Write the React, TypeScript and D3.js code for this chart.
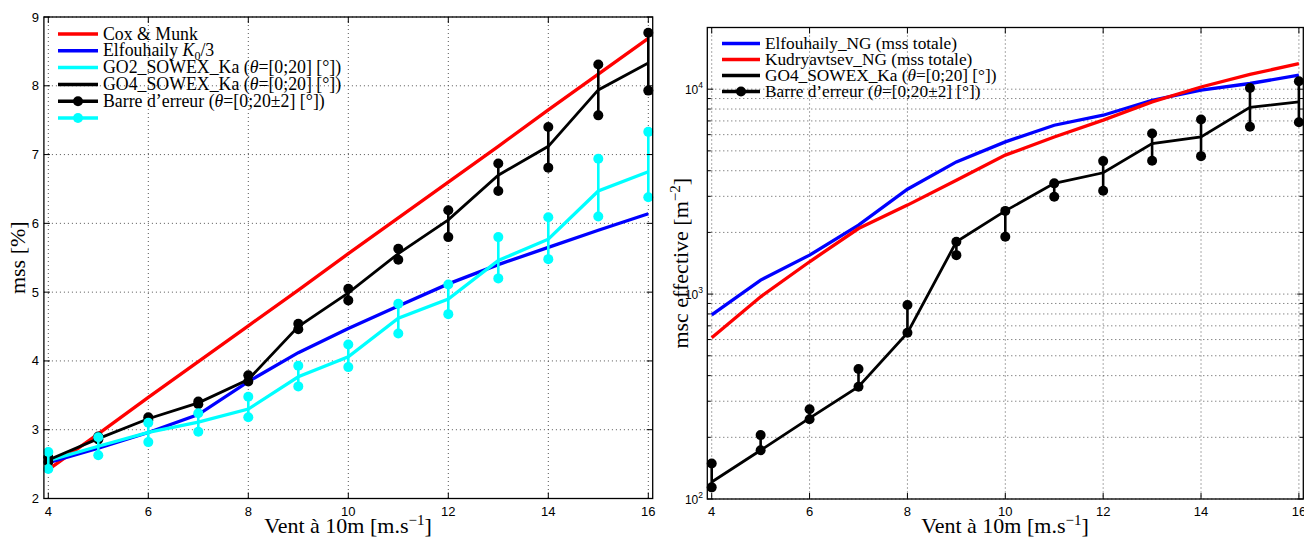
import React from 'react';
import * as d3 from 'd3';

// ---------- data ----------
const windSpeeds = [4, 5, 6, 7, 8, 9, 10, 11, 12, 13, 14, 15, 16];

// Left panel: mss [%]
const coxMunk = [2.42, 2.94, 3.47, 3.99, 4.51, 5.03, 5.56, 6.08, 6.6, 7.12, 7.65, 8.17, 8.69];
const elfouhailyK0 = [2.52, 2.73, 2.96, 3.22, 3.7, 4.12, 4.47, 4.8, 5.12, 5.4, 5.65, 5.9, 6.14];
const go2Mss = [2.55, 2.76, 2.96, 3.11, 3.3, 3.77, 4.06, 4.62, 4.9, 5.46, 5.77, 6.47, 6.75];
const go2Upper = [2.675, 2.89, 3.1, 3.24, 3.48, 3.93, 4.24, 4.83, 5.11, 5.8, 6.09, 6.94, 7.33];
const go2Lower = [2.43, 2.63, 2.82, 2.97, 3.18, 3.63, 3.91, 4.4, 4.68, 5.2, 5.48, 6.1, 6.38];
const go4Mss = [2.56, 2.87, 3.16, 3.39, 3.73, 4.5, 4.99, 5.56, 6.05, 6.7, 7.12, 7.94, 8.33];
const go4Upper = [2.6, 2.9, 3.18, 3.41, 3.79, 4.54, 5.05, 5.63, 6.19, 6.87, 7.4, 8.31, 8.77];
const go4Lower = [2.53, 2.86, 3.14, 3.37, 3.7, 4.46, 4.88, 5.47, 5.8, 6.47, 6.81, 7.57, 7.93];

// Right panel: msc effective [m^-2]
const elfouhailyNG = [791, 1170, 1549, 2172, 3250, 4416, 5530, 6670, 7462, 8833, 9883, 10660, 11700];
const kudryavtsevNG = [612, 970, 1438, 2089, 2718, 3597, 4766, 5845, 7060, 8670, 10250, 11800, 13330];
const go4Msc = [121, 173, 248, 353, 647, 1799, 2547, 3470, 3909, 5430, 5845, 8150, 8670];
const go4MscUpper = [149, 205, 274, 431, 884, 1799, 2547, 3470, 4457, 6080, 7110, 10140, 10940];
const go4MscLower = [114, 173, 245, 353, 647, 1549, 1905, 2985, 3191, 4470, 4713, 6550, 6890];

const xTicks = [4, 6, 8, 10, 12, 14, 16];
const leftYTicks = [2, 3, 4, 5, 6, 7, 8, 9];
const rightYMajor = [100, 1000, 10000];

// ---------- style ----------
const RED = '#ff0000';
const BLUE = '#0000ff';
const CYAN = '#00ffff';
const BLACK = '#000000';
const SERIF = '"Liberation Serif", "Times New Roman", serif';
const SANS = '"Liberation Sans", Arial, Helvetica, sans-serif';
const GRID = { stroke: '#555', strokeWidth: 1, strokeDasharray: '1,3' };
const MARKER_R = 5;

function ErrorBars({ xs, lo, hi, x, y, color }: any) {
  return (
    <g>
      {xs.map((d: number, i: number) => (
        <g key={i}>
          <line x1={x(d)} x2={x(d)} y1={y(lo[i])} y2={y(hi[i])} stroke={color} strokeWidth={2.6} />
          <circle cx={x(d)} cy={y(lo[i])} r={MARKER_R} fill={color} />
          <circle cx={x(d)} cy={y(hi[i])} r={MARKER_R} fill={color} />
        </g>
      ))}
    </g>
  );
}

function LeftPanel() {
  const x0 = 43.9, x1 = 652.7, y0 = 17, y1 = 498.5;
  const x = d3.scaleLinear().domain([3.912, 16.088]).range([x0, x1]);
  const y = d3.scaleLinear().domain([2, 9]).range([y1, y0]);
  const line = (vals: number[]) =>
    d3.line<number>().x((_, i) => x(windSpeeds[i])).y((v) => y(v))(vals) || '';
  const tl = 6;
  const legendRows = [
    { color: RED, marker: false },
    { color: BLUE, marker: false },
    { color: CYAN, marker: false },
    { color: BLACK, marker: false },
    { color: BLACK, marker: true },
    { color: CYAN, marker: true },
  ];
  const legendY = (i: number) => 34 + i * 16.8;
  return (
    <g>
      {xTicks.map((t) => (
        <line key={'gx' + t} x1={x(t)} x2={x(t)} y1={y0} y2={y1} {...GRID} />
      ))}
      {leftYTicks.map((t) => (
        <line key={'gy' + t} x1={x0} x2={x1} y1={y(t)} y2={y(t)} {...GRID} />
      ))}
      <path d={line(coxMunk)} fill="none" stroke={RED} strokeWidth={3.3} />
      <path d={line(elfouhailyK0)} fill="none" stroke={BLUE} strokeWidth={3.3} />
      <path d={line(go2Mss)} fill="none" stroke={CYAN} strokeWidth={3.3} />
      <path d={line(go4Mss)} fill="none" stroke={BLACK} strokeWidth={2.8} />
      <ErrorBars xs={windSpeeds} lo={go4Lower} hi={go4Upper} x={x} y={y} color={BLACK} />
      <ErrorBars xs={windSpeeds} lo={go2Lower} hi={go2Upper} x={x} y={y} color={CYAN} />
      <rect x={x0} y={y0} width={x1 - x0} height={y1 - y0} fill="none" stroke="#000" strokeWidth={1.3} />
      {xTicks.map((t) => (
        <g key={'tx' + t}>
          <line x1={x(t)} x2={x(t)} y1={y1} y2={y1 - tl} stroke="#000" />
          <line x1={x(t)} x2={x(t)} y1={y0} y2={y0 + tl} stroke="#000" />
          <text x={x(t)} y={515.5} fontFamily={SANS} fontSize={13} textAnchor="middle">{t}</text>
        </g>
      ))}
      {leftYTicks.map((t) => (
        <g key={'ty' + t}>
          <line x1={x0} x2={x0 + tl} y1={y(t)} y2={y(t)} stroke="#000" />
          <line x1={x1} x2={x1 - tl} y1={y(t)} y2={y(t)} stroke="#000" />
          <text x={39} y={y(t) + 4.5} fontFamily={SANS} fontSize={13} textAnchor="end">{t}</text>
        </g>
      ))}
      <text x={348} y={533} fontFamily={SERIF} fontSize={22} textAnchor="middle">
        Vent à 10m [m.s<tspan dy={-8} fontSize={15}>−1</tspan><tspan dy={8}>]</tspan>
      </text>
      <text transform={`translate(25,${(y0 + y1) / 2}) rotate(-90)`} fontFamily={SERIF} fontSize={22} textAnchor="middle">
        mss [%]
      </text>
      {legendRows.map((r, i) => (
        <g key={'lg' + i}>
          <line x1={58} x2={98} y1={legendY(i)} y2={legendY(i)} stroke={r.color} strokeWidth={3.5} />
          {r.marker && <circle cx={78} cy={legendY(i)} r={MARKER_R} fill={r.color} />}
        </g>
      ))}
      <g fontFamily={SERIF} fontSize={17.8}>
        <text x={103} y={legendY(0) + 5.5}>Cox &amp; Munk</text>
        <text x={103} y={legendY(1) + 5.5}>
          Elfouhaily <tspan fontStyle="italic">K</tspan>
          <tspan dy={4} fontSize={12}>0</tspan>
          <tspan dy={-4}>/3</tspan>
        </text>
        <text x={103} y={legendY(2) + 5.5}>
          GO2_SOWEX_Ka (<tspan fontStyle="italic">θ</tspan>=[0;20] [°])
        </text>
        <text x={103} y={legendY(3) + 5.5}>
          GO4_SOWEX_Ka (<tspan fontStyle="italic">θ</tspan>=[0;20] [°])
        </text>
        <text x={103} y={legendY(4) + 5.5}>
          Barre d’erreur (<tspan fontStyle="italic">θ</tspan>=[0;20±2] [°])
        </text>
      </g>
    </g>
  );
}

function RightPanel() {
  const x0 = 707.3, x1 = 1303.3, y0 = 27.5, y1 = 499;
  const x = d3.scaleLinear().domain([3.91, 16.09]).range([x0, x1]);
  const y = d3.scaleLog().domain([100, 20000]).range([y1, y0]);
  const line = (vals: number[]) =>
    d3.line<number>().x((_, i) => x(windSpeeds[i])).y((v) => y(v))(vals) || '';
  const minor: number[] = [];
  [100, 1000, 10000].forEach((dec) => {
    for (let k = 2; k <= 9; k++) {
      const v = dec * k;
      if (v <= 20000) minor.push(v);
    }
  });
  const tl = 6;
  const legendY = (i: number) => 43.5 + i * 16;
  const legendRows = [
    { color: BLUE, marker: false },
    { color: RED, marker: false },
    { color: BLACK, marker: false },
    { color: BLACK, marker: true },
  ];
  return (
    <g>
      {xTicks.map((t) => (
        <line key={'gx' + t} x1={x(t)} x2={x(t)} y1={y0} y2={y1} {...GRID} />
      ))}
      {[...rightYMajor, ...minor].map((t) => (
        <line key={'gy' + t} x1={x0} x2={x1} y1={y(t)} y2={y(t)} {...GRID} />
      ))}
      <path d={line(elfouhailyNG)} fill="none" stroke={BLUE} strokeWidth={3.3} />
      <path d={line(kudryavtsevNG)} fill="none" stroke={RED} strokeWidth={3.3} />
      <path d={line(go4Msc)} fill="none" stroke={BLACK} strokeWidth={2.8} />
      <ErrorBars xs={windSpeeds} lo={go4MscLower} hi={go4MscUpper} x={x} y={y} color={BLACK} />
      <rect x={x0} y={y0} width={x1 - x0} height={y1 - y0} fill="none" stroke="#000" strokeWidth={1.3} />
      {xTicks.map((t) => (
        <g key={'tx' + t}>
          <line x1={x(t)} x2={x(t)} y1={y1} y2={y1 - tl} stroke="#000" />
          <line x1={x(t)} x2={x(t)} y1={y0} y2={y0 + tl} stroke="#000" />
          <text x={x(t)} y={515.5} fontFamily={SANS} fontSize={13} textAnchor="middle">{t}</text>
        </g>
      ))}
      {rightYMajor.map((t) => (
        <g key={'ty' + t}>
          <line x1={x0} x2={x0 + tl} y1={y(t)} y2={y(t)} stroke="#000" />
          <line x1={x1} x2={x1 - tl} y1={y(t)} y2={y(t)} stroke="#000" />
          <text x={703} y={y(t) + 5} fontFamily={SANS} fontSize={12} textAnchor="end">
            10<tspan dy={-6} fontSize={8.5}>{Math.round(Math.log10(t))}</tspan>
          </text>
        </g>
      ))}
      {minor.map((t) => (
        <g key={'my' + t}>
          <line x1={x0} x2={x0 + 3.5} y1={y(t)} y2={y(t)} stroke="#000" />
          <line x1={x1} x2={x1 - 3.5} y1={y(t)} y2={y(t)} stroke="#000" />
        </g>
      ))}
      <text x={1005} y={533} fontFamily={SERIF} fontSize={22} textAnchor="middle">
        Vent à 10m [m.s<tspan dy={-8} fontSize={15}>−1</tspan><tspan dy={8}>]</tspan>
      </text>
      <text transform={`translate(688,${(y0 + y1) / 2}) rotate(-90)`} fontFamily={SERIF} fontSize={22} textAnchor="middle">
        msc effective [m<tspan dy={-8} fontSize={15}>−2</tspan><tspan dy={8}>]</tspan>
      </text>
      {legendRows.map((r, i) => (
        <g key={'lg' + i}>
          <line x1={722} x2={760} y1={legendY(i)} y2={legendY(i)} stroke={r.color} strokeWidth={3.5} />
          {r.marker && <circle cx={741} cy={legendY(i)} r={MARKER_R} fill={r.color} />}
        </g>
      ))}
      <g fontFamily={SERIF} fontSize={17.3}>
        <text x={765} y={legendY(0) + 5.5}>Elfouhaily_NG (mss totale)</text>
        <text x={765} y={legendY(1) + 5.5}>Kudryavtsev_NG (mss totale)</text>
        <text x={765} y={legendY(2) + 5.5}>
          GO4_SOWEX_Ka (<tspan fontStyle="italic">θ</tspan>=[0;20] [°])
        </text>
        <text x={765} y={legendY(3) + 5.5}>
          Barre d’erreur (<tspan fontStyle="italic">θ</tspan>=[0;20±2] [°])
        </text>
      </g>
    </g>
  );
}

export default function App() {
  return (
    <svg
      width={1304}
      height={539}
      style={{ position: 'absolute', left: 0, top: 0, background: '#fff' }}
    >
      <rect x={0} y={0} width={1304} height={539} fill="#fff" />
      <LeftPanel />
      <RightPanel />
    </svg>
  );
}
